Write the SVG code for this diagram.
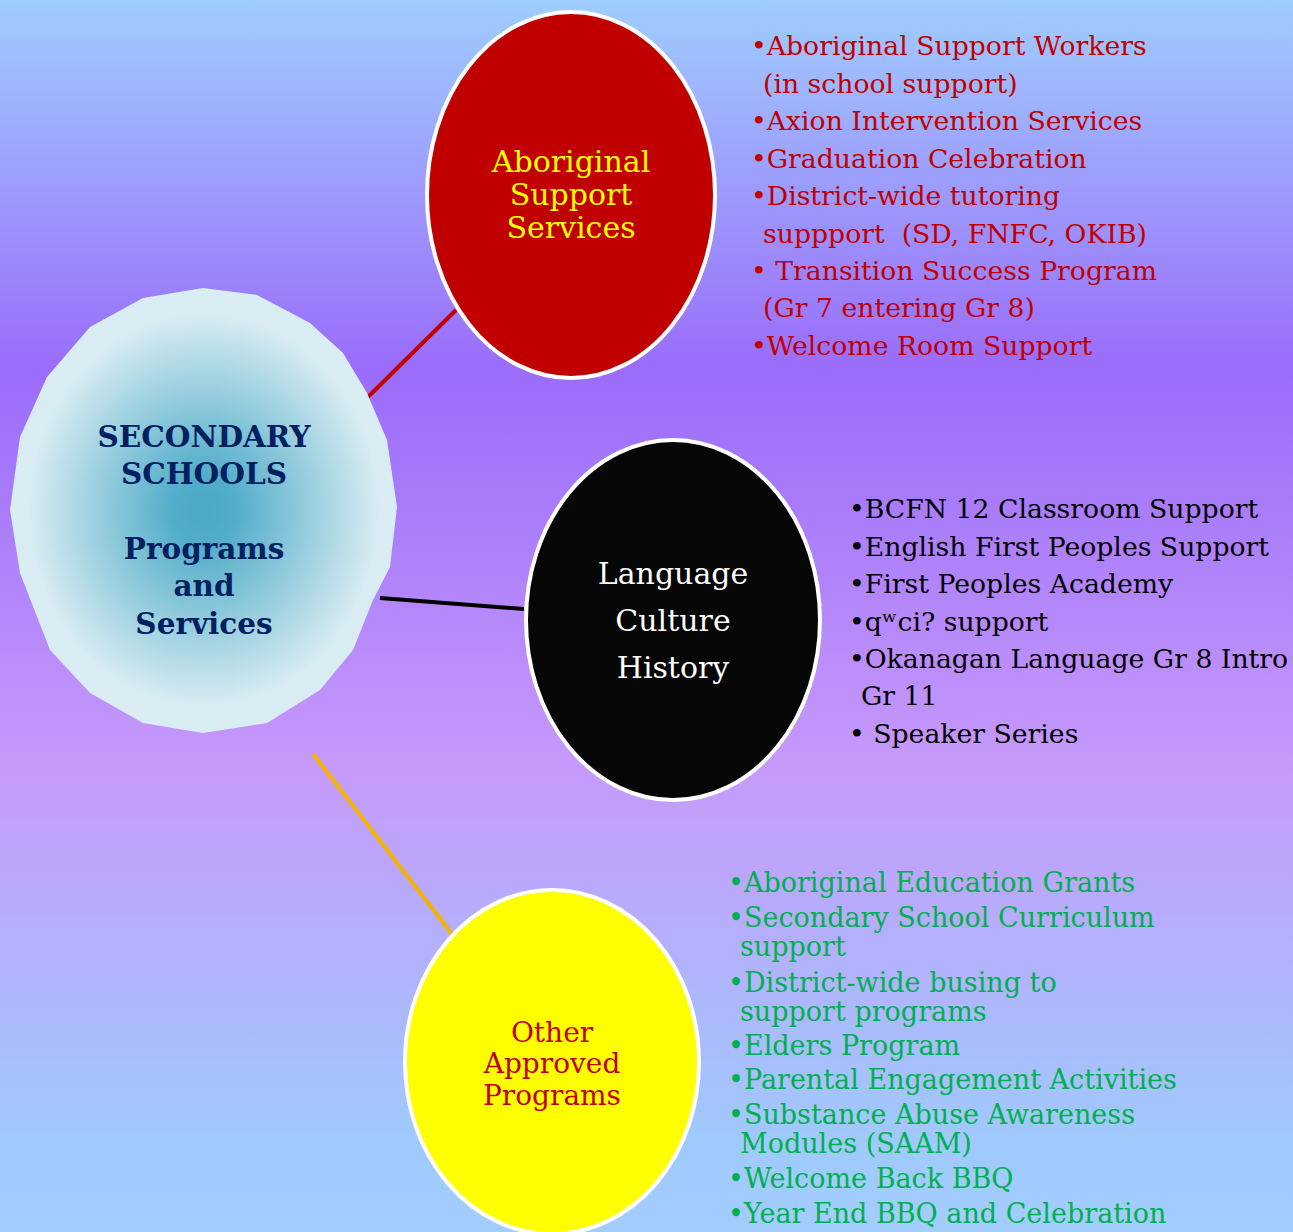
<svg xmlns="http://www.w3.org/2000/svg" width="1293" height="1232" viewBox="0 0 1293 1232">
<defs>
<linearGradient id="bg" x1="0" y1="0" x2="0" y2="1">
<stop offset="0" stop-color="#9fcdfe"/>
<stop offset="0.3" stop-color="#9a6cfa"/>
<stop offset="0.62" stop-color="#c699fb"/>
<stop offset="0.93" stop-color="#9fcafd"/>
<stop offset="1" stop-color="#a3cdfd"/>
</linearGradient>
<radialGradient id="blob" cx="204" cy="510" r="205" gradientUnits="userSpaceOnUse" gradientTransform="translate(204 510) scale(1 1.12) translate(-204 -510)">
<stop offset="0" stop-color="#4aa9c6"/>
<stop offset="0.15" stop-color="#52adc9"/>
<stop offset="0.85" stop-color="#d8ecf2"/>
<stop offset="1" stop-color="#d9eef4"/>
</radialGradient>
</defs>
<style>
.node{stroke:#ffffff;stroke-width:4}
.nt{font-family:"DejaVu Serif","Liberation Serif",serif;font-size:30px;text-anchor:middle}
.nt2{font-family:"DejaVu Serif","Liberation Serif",serif;font-size:28px;text-anchor:middle}
.ct{font-family:"DejaVu Serif","Liberation Serif",serif;font-size:29.5px;font-weight:bold;fill:#002060;text-anchor:middle}
.lt{font-family:"DejaVu Serif","Liberation Serif",serif;font-size:26.7px}
.red{fill:#c00000}
.blk{fill:#000000}
.grn{fill:#00b050;font-size:27px}
</style>
<rect x="0" y="0" width="1293" height="1232" fill="url(#bg)"/>
<g id="connectors" stroke-width="4" fill="none">
<line x1="368" y1="397" x2="456" y2="310" stroke="#c00000"/>
<line x1="380" y1="598" x2="524" y2="609" stroke="#000000"/>
<line x1="313" y1="754" x2="452" y2="934" stroke="#f5b400"/>
</g>
<g id="center">
<polygon fill="url(#blob)" points="203,288 257,295 310,323 343,353 367,393 387,440 397,507 390,567 373,600 353,650 320,690 267,723 203,733 143,723 90,693 50,650 20,573 10,510 20,437 47,377 90,327 143,298"/>
<text class="ct" x="204" y="447">SECONDARY</text>
<text class="ct" x="204" y="484">SCHOOLS</text>
<text class="ct" x="204" y="559">Programs</text>
<text class="ct" x="204" y="596">and</text>
<text class="ct" x="204" y="634">Services</text>
</g>
<g id="aboriginal-support">
<ellipse class="node" cx="571" cy="195" rx="144" ry="183" fill="#c00000"/>
<text class="nt" fill="#ffff00" x="571" y="172">Aboriginal</text>
<text class="nt" fill="#ffff00" x="571" y="205">Support</text>
<text class="nt" fill="#ffff00" x="571" y="238">Services</text>
</g>
<g id="language-culture">
<ellipse class="node" cx="673" cy="620" rx="147" ry="180" fill="#060606"/>
<text class="nt" fill="#ffffff" x="673" y="584">Language</text>
<text class="nt" fill="#ffffff" x="673" y="631">Culture</text>
<text class="nt" fill="#ffffff" x="673" y="678">History</text>
</g>
<g id="other-programs">
<ellipse class="node" cx="552" cy="1062" rx="147" ry="172" fill="#ffff00"/>
<text class="nt2" fill="#c00000" x="552" y="1042">Other</text>
<text class="nt2" fill="#c00000" x="552" y="1073">Approved</text>
<text class="nt2" fill="#c00000" x="552" y="1105">Programs</text>
</g>
<g id="list-aboriginal" class="lt red">
<text x="751" y="55">•Aboriginal Support Workers</text>
<text x="763" y="93">(in school support)</text>
<text x="751" y="130">•Axion Intervention Services</text>
<text x="751" y="168">•Graduation Celebration</text>
<text x="751" y="205">•District-wide tutoring</text>
<text x="763" y="243" xml:space="preserve">suppport  (SD, FNFC, OKIB)</text>
<text x="751" y="280">• Transition Success Program</text>
<text x="763" y="317">(Gr 7 entering Gr 8)</text>
<text x="751" y="355">•Welcome Room Support</text>
</g>
<g id="list-language" class="lt blk">
<text x="849" y="518">•BCFN 12 Classroom Support</text>
<text x="849" y="556">•English First Peoples Support</text>
<text x="849" y="593">•First Peoples Academy</text>
<text x="849" y="631">•qʷci? support</text>
<text x="849" y="668">•Okanagan Language Gr 8 Intro</text>
<text x="861" y="705">Gr 11</text>
<text x="849" y="743">• Speaker Series</text>
</g>
<g id="list-other" class="lt grn">
<text x="728" y="892">•Aboriginal Education Grants</text>
<text x="728" y="927">•Secondary School Curriculum</text>
<text x="740" y="956">support</text>
<text x="728" y="992">•District-wide busing to</text>
<text x="740" y="1021">support programs</text>
<text x="728" y="1055">•Elders Program</text>
<text x="728" y="1089">•Parental Engagement Activities</text>
<text x="728" y="1124">•Substance Abuse Awareness</text>
<text x="740" y="1153">Modules (SAAM)</text>
<text x="728" y="1188">•Welcome Back BBQ</text>
<text x="728" y="1223">•Year End BBQ and Celebration</text>
</g>
</svg>
